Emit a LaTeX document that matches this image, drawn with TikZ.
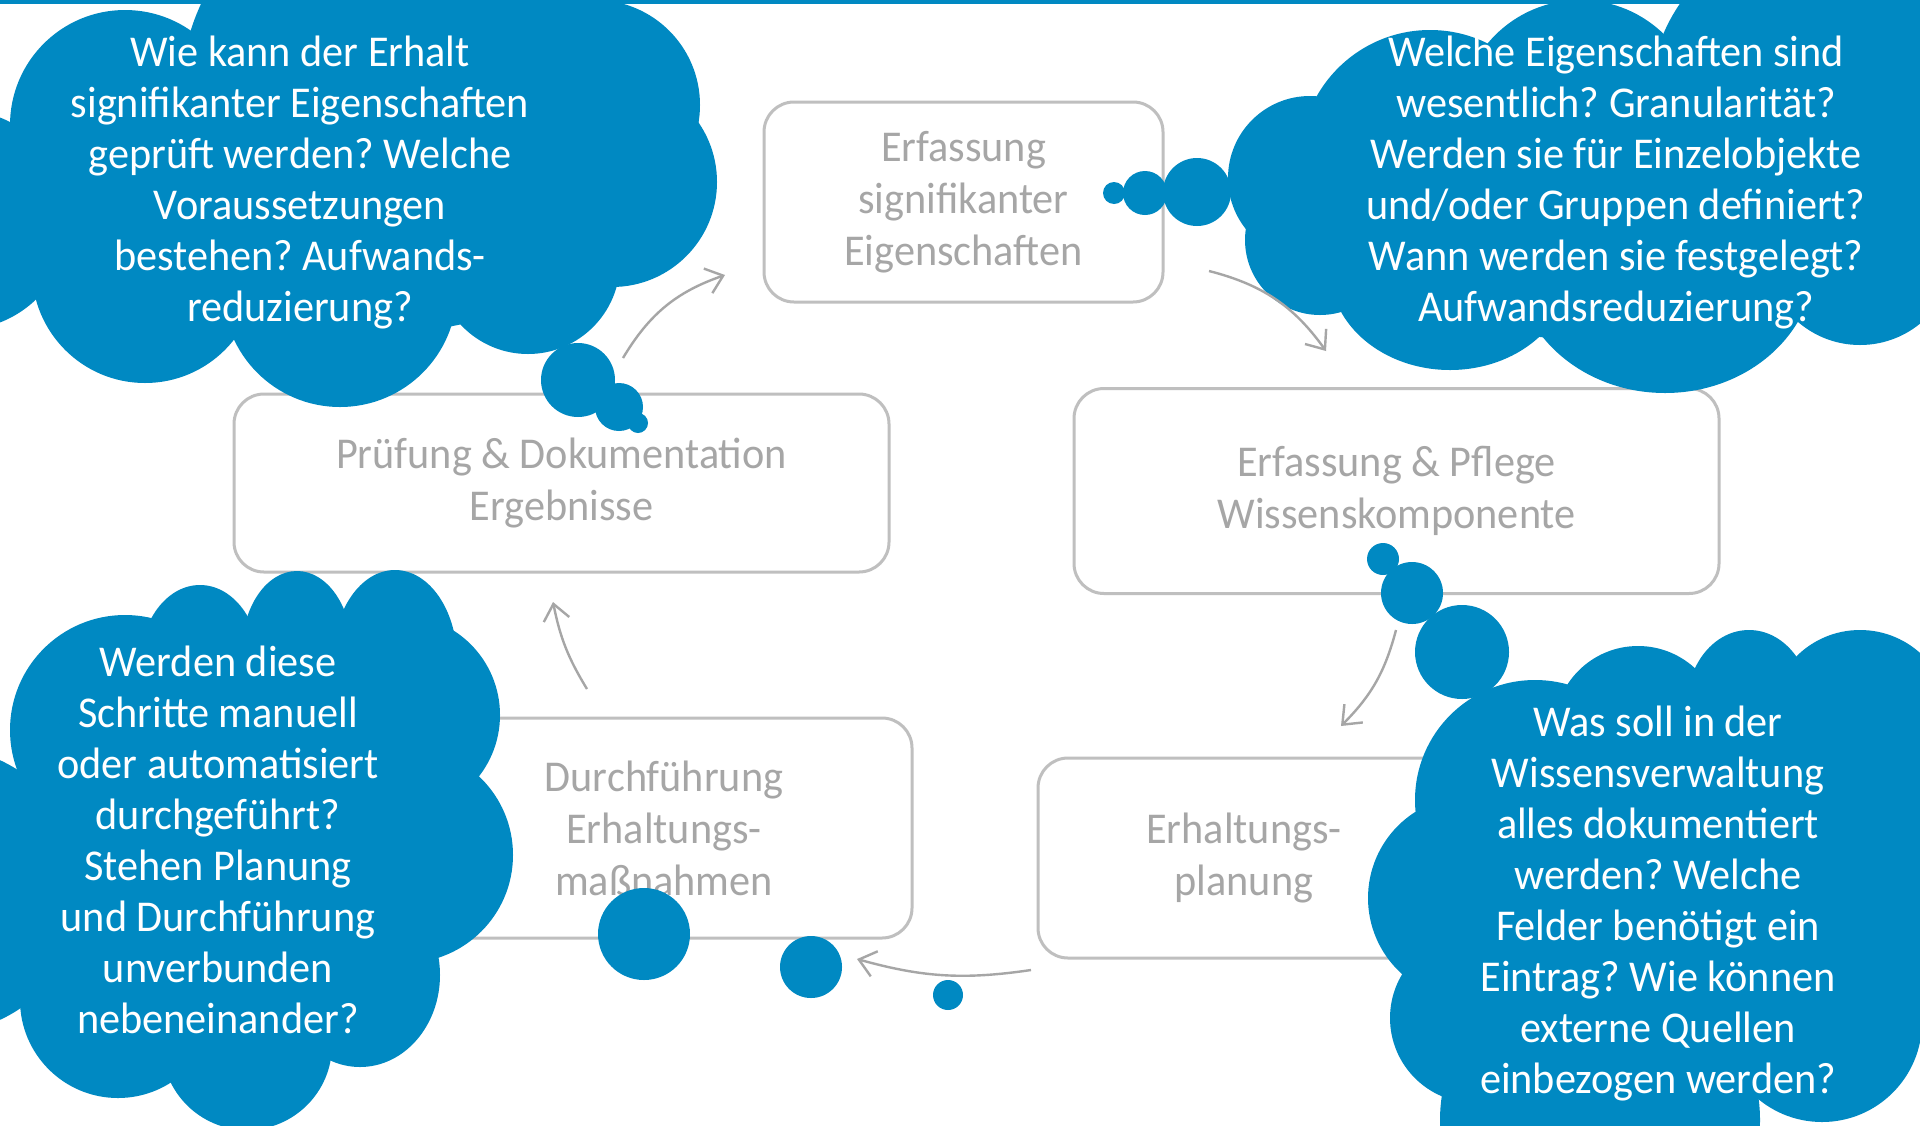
\documentclass[tikz,border=0pt]{standalone}
\usepackage{fontspec}
\setmainfont{Carlito}[FakeStretch=0.96]
\usetikzlibrary{arrows.meta}
\definecolor{cloudblue}{RGB}{0,137,194}
\definecolor{boxgray}{RGB}{191,191,191}
\definecolor{textgray}{RGB}{166,166,166}
\frenchspacing

\begin{document}
\begin{tikzpicture}[x=0.5pt, y=-0.5pt]
\useasboundingbox (0,0) rectangle (1920,1125);
\clip (0,0) rectangle (1920,1125);
\fill[white] (0,0) rectangle (1920,1125);

% process steps
\begin{scope}[every node/.style={draw=boxgray, line width=1.5pt, rounded corners=15pt,
              fill=white, text=textgray, align=center, inner sep=0pt,
              font=\fontsize{22}{26}\selectfont}]
  \node[minimum width=199.5pt, minimum height=100pt] (sig) at (963.5,202) {Erfassung\\signifikanter\\Eigenschaften};
  \node[minimum width=322.5pt, minimum height=102.5pt] (wis) at (1396.5,491) {Erfassung \& Pflege\\Wissenskomponente};
  \node[minimum width=206pt, minimum height=100pt] (plan) at (1244,858) {Erhaltungs-\\planung};
  \node[minimum width=248pt, minimum height=110pt] (durch) at (664,828) {Durchführung\\Erhaltungs-\\maßnahmen};
  \node[minimum width=327.5pt, minimum height=89pt] (pruef) at (561.5,483) {Prüfung \& Dokumentation\\Ergebnisse};
\end{scope}

% top bar
\fill[cloudblue] (0,0) rectangle (1920,4);

% clouds
\begin{scope}[every path/.style={fill=cloudblue}]
  % top left
  \fill (125,125) circle[radius=115];
  \fill (-40,220) circle[radius=110];
  \fill (145,270) circle[radius=113];
  \fill (340,290) circle[radius=117];
  \fill (528,262) circle[radius=92];
  \fill (612,182) circle[radius=105];
  \fill (595,105) circle[radius=105];
  \fill (410,100) circle[radius=230];
  \fill (578,380) circle[radius=37];
  \fill (619,407) circle[radius=24];
  \fill (638,423) circle[radius=10];
  % top right
  \fill (1430,160) ellipse[x radius=130, y radius=130];
  \fill (1580,120) circle[radius=120];
  \fill (1820,100) circle[radius=170];
  \fill (1310,178) circle[radius=82];
  \fill (1320,240) circle[radius=75];
  \fill (1450,270) ellipse[x radius=120, y radius=100];
  \fill (1665,260) ellipse[x radius=150, y radius=133];
  \fill (1860,250) circle[radius=95];
  \fill (1600,190) ellipse[x radius=300, y radius=150];
  \fill (1114,193) circle[radius=11];
  \fill (1145,193) circle[radius=22];
  \fill (1197,192) circle[radius=34];
  % bottom left
  \fill (125,730) circle[radius=115];
  \fill (200,665) ellipse[x radius=60, y radius=80];
  \fill (297,651) ellipse[x radius=55, y radius=80];
  \fill (395,660) ellipse[x radius=62, y radius=90];
  \fill (400,715) circle[radius=100];
  \fill (405,855) circle[radius=108];
  \fill (360,975) ellipse[x radius=80, y radius=92];
  \fill (247,1045) circle[radius=85];
  \fill (118,1000) circle[radius=98];
  \fill (-60,890) circle[radius=143];
  \fill (250,830) ellipse[x radius=220, y radius=200];
  \fill (644,934) circle[radius=46];
  \fill (811,967) circle[radius=31];
  \fill (948,995) circle[radius=15];
  % bottom right
  \fill (1535,800) circle[radius=120];
  \fill (1638,730) circle[radius=84];
  \fill (1749,705) ellipse[x radius=62, y radius=75];
  \fill (1860,720) circle[radius=90];
  \fill (1470,898) circle[radius=102];
  \fill (1475,1018) circle[radius=85];
  \fill (1600,1120) circle[radius=160];
  \fill (1822,1022) circle[radius=100];
  \fill (2000,850) circle[radius=190];
  \fill (1660,880) ellipse[x radius=220, y radius=200];
  \fill (1383,559) circle[radius=16];
  \fill (1412,593) circle[radius=31];
  \fill (1462,652) circle[radius=47];
\end{scope}

% questions
\begin{scope}[every node/.style={text=white, align=center,
              font=\fontsize{22}{25.5}\selectfont}]
  \node (q1) at (300,182) {Wie kann der Erhalt\\signifikanter Eigenschaften\\geprüft werden? Welche\\Voraussetzungen\\bestehen? Aufwands-\\reduzierung?};
  \node (q2) at (1616,182) {Welche Eigenschaften sind\\wesentlich? Granularität?\\Werden sie für Einzelobjekte\\und/oder Gruppen definiert?\\Wann werden sie festgelegt?\\Aufwandsreduzierung?};
  \node (q3) at (218,840) {Werden diese\\Schritte manuell\\oder automatisiert\\durchgeführt?\\Stehen Planung\\und Durchführung\\unverbunden\\nebeneinander?};
  \node (q4) at (1658,903) {Was soll in der\\Wissensverwaltung\\alles dokumentiert\\werden? Welche\\Felder benötigt ein\\Eintrag? Wie können\\externe Quellen\\einbezogen werden?};
\end{scope}

% cycle arrows
\coordinate (a1s) at (1209,271);  \coordinate (a1e) at (1326,351);
\coordinate (a2s) at (1396,630);  \coordinate (a2e) at (1341,726);
\coordinate (a3s) at (1031,970);  \coordinate (a3e) at (857,959);
\coordinate (a4s) at (587,689);   \coordinate (a4e) at (553,602);
\coordinate (a5s) at (623,358);   \coordinate (a5e) at (725,275);
\begin{scope}[>={Straight Barb[length=8pt, width=13pt]},
              every edge/.style={draw=textgray, line width=1.2pt}]
  \path[->] (a1s) edge[bend left=20] (a1e);
  \path[->] (a2s) edge[bend left=15] (a2e);
  \path[->] (a3s) edge[bend left=12] (a3e);
  \path[->] (a4s) edge[bend left=10] (a4e);
  \path[->] (a5s) edge[bend left=20] (a5e);
\end{scope}

\end{tikzpicture}
\end{document}
